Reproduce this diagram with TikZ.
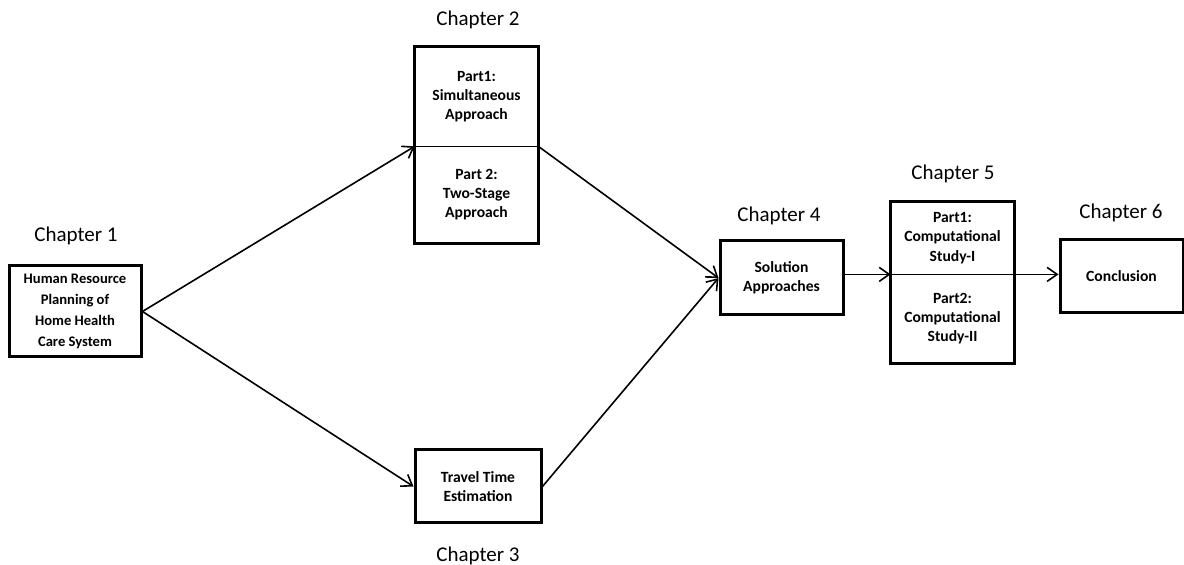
\documentclass[tikz,border=0pt]{standalone}
\usepackage{fontspec}
\setmainfont{Carlito}
\usetikzlibrary{arrows.meta}

\tikzset{
  chaplabel/.style={anchor=base, inner sep=0pt, font=\fontsize{10.5}{12}\selectfont},
  chapbox/.style={draw, line width=1.5pt, align=center, inner sep=0pt,
    font=\fontsize{7.8}{9.6}\selectfont\bfseries},
  partbox/.style={align=center, inner sep=0pt, minimum width=61.5pt,
    font=\fontsize{7.8}{9.6}\selectfont\bfseries},
}

\begin{document}
\begin{tikzpicture}[x=0.5pt, y=-0.5pt, >={Straight Barb[length=5pt,width=7pt]}]
      \useasboundingbox (0,0) rectangle (1184,565);

      % Draw chapter labels
      \node[chaplabel] (lab1) at (76,242) {Chapter 1};
      \node[chaplabel] (lab2) at (478,26) {Chapter 2};
      \node[chaplabel] (lab3) at (478,562) {Chapter 3};
      \node[chaplabel] (lab4) at (779,222) {Chapter 4};
      \node[chaplabel] (lab5) at (953,180) {Chapter 5};
      \node[chaplabel] (lab6) at (1121,219) {Chapter 6};

      % Draw single boxes
      \node[chapbox, minimum width=66pt, minimum height=45.5pt,
        font=\fontsize{7.3}{10.6}\selectfont\bfseries] (hr) at (75,311.5)
        {Human Resource\\Planning of\\Home Health\\Care System};
      \node[chapbox, minimum width=63pt, minimum height=36.5pt] (travel) at (478,486.5)
        {Travel Time\\Estimation};
      \node[chapbox, minimum width=61.5pt, minimum height=37pt] (sol) at (781.5,278)
        {Solution\\Approaches};
      \node[chapbox, minimum width=61.5pt, minimum height=36.5pt] (concl) at (1121.5,276.5)
        {Conclusion};

      % Draw split boxes
      \node[partbox, minimum height=49.5pt] (sim) at (476.5,96.5)
        {Part1:\\Simultaneous\\Approach};
      \node[partbox, minimum height=48.5pt] (two) at (476.5,194.5)
        {Part 2:\\Two-Stage\\Approach};
      \draw[line width=1.5pt] (sim.north west) rectangle (two.south east);
      \draw[line width=0.75pt] (sim.south west) -- (sim.south east);

      \node[partbox, minimum height=36pt] (comp1) at (952.5,238)
        {Part1:\\Computational\\Study-I};
      \node[partbox, minimum height=44.5pt] (comp2) at (952.5,318.5)
        {Part2:\\Computational\\Study-II};
      \draw[line width=1.5pt] (comp1.north west) rectangle (comp2.south east);
      \draw[line width=0.75pt] (comp1.south west) -- (comp1.south east);

      % Draw arrows
      \draw[->, line width=0.8pt] (hr.east) -- (sim.south west);
      \draw[->, line width=0.8pt] (hr.east) -- (travel.west);
      \draw[->, line width=0.8pt] (sim.south east) -- (sol.west);
      \draw[->, line width=0.8pt] (travel.east) -- (sol.west);
      \draw[->, line width=0.8pt] (sol.east |- comp1.south west) -- (comp1.south west);
      \draw[->, line width=0.8pt] (comp1.south east) -- (concl.west |- comp1.south east);
\end{tikzpicture}
\end{document}
